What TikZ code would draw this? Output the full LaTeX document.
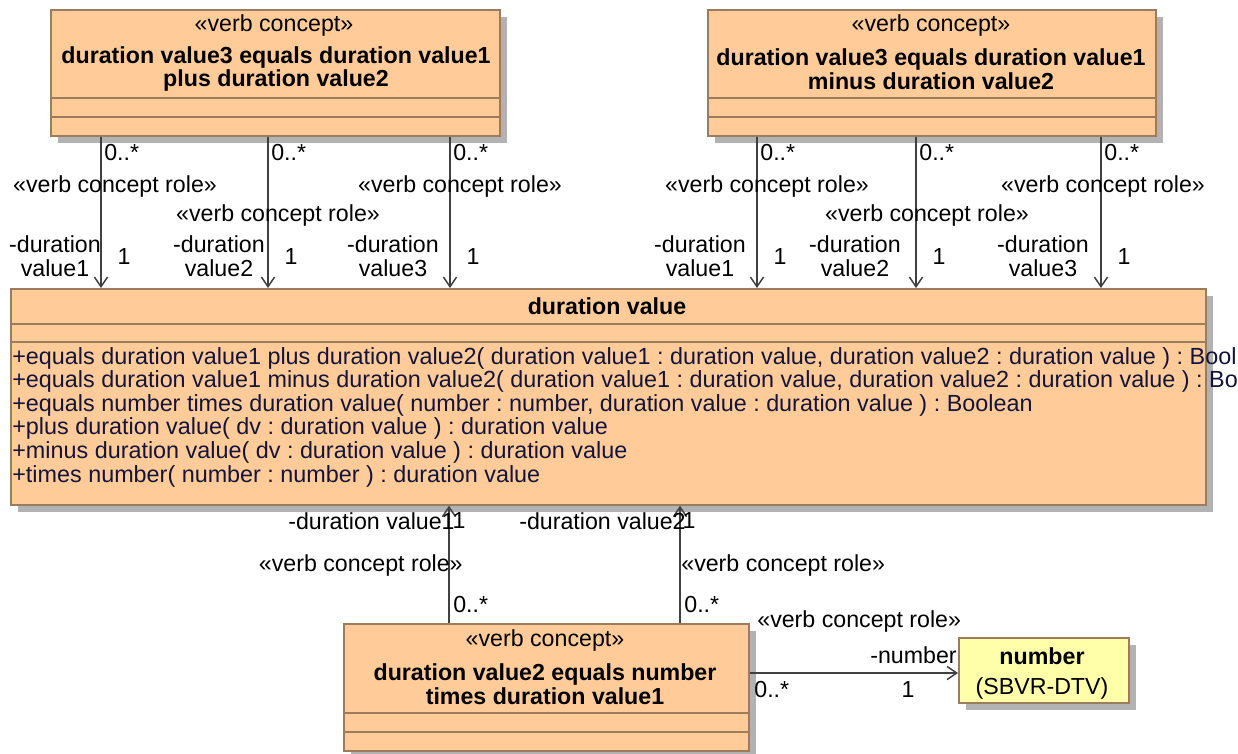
\documentclass[tikz,border=0pt]{standalone}
\usepackage{fontspec}
\setmainfont{Liberation Sans}
\usetikzlibrary{arrows.meta, calc, shadows}
\frenchspacing

\definecolor{classfill}{HTML}{FFCC99}
\definecolor{classline}{HTML}{9C7C5C}
\definecolor{dtvfill}{HTML}{FFFFAA}
\definecolor{linkgray}{HTML}{404040}
\definecolor{optext}{HTML}{14143A}

\tikzset{
  umlbox/.style={draw=classline, fill=classfill, line width=1pt, inner sep=0pt, anchor=north west,
    drop shadow={shadow xshift=0.15cm, shadow yshift=-0.15cm, fill=black!30, opacity=1}},
  boxline/.style={draw=classline, line width=1pt},
  role/.style={draw=linkgray, line width=0.85pt, -{Straight Barb[length=5.5pt, width=7.5pt]}},
  lbl/.style={inner sep=0pt, font=\fontsize{13.2}{13.4}\selectfont},
  bold/.style={inner sep=0pt, align=center, font=\fontsize{13.2}{13.6}\selectfont\bfseries},
}

\begin{document}
\begin{tikzpicture}[x=0.02cm, y=-0.02cm]
    \useasboundingbox (0,0) rectangle (1238,754);

    % The verb concepts
    \node[umlbox, minimum width=8.98cm, minimum height=2.52cm] (plus) at (50,9) {};
    \node[umlbox, minimum width=8.96cm, minimum height=2.52cm] (minus) at (707,9) {};
    \node[umlbox, minimum width=8.1cm, minimum height=2.54cm] (times) at (343,623) {};

    % The main class and the data type
    \node[umlbox, minimum width=23.9cm, minimum height=4.32cm] (dv) at (10,288) {};
    \node[umlbox, fill=dtvfill, minimum width=3.4cm, minimum height=1.3cm] (num) at (958,637) {};

    % Compartments
    \foreach \b/\d in {plus/89, plus/108, minus/89, minus/108, times/90, times/109, dv/36, dv/54}
        \draw[boxline] ($(\b.north west)+(0,\d)$) -- ($(\b.north east)+(0,\d)$);

    % Class texts
    \node[lbl] at (274,26) {«verb concept»};
    \node[bold] at (276,69) {duration value3 equals duration value1\\plus duration value2};
    \node[lbl] at (931,26) {«verb concept»};
    \node[bold] at (931,69) {duration value3 equals duration value1\\minus duration value2};
    \node[lbl] at (545,640) {«verb concept»};
    \node[bold] at (545,684) {duration value2 equals number\\times duration value1};
    \node[bold] at (607,306) {duration value};
    \node[bold] at (1042,656) {number};
    \node[lbl] at (1042,688) {(SBVR-DTV)};

    % Operations
    \node[lbl, text=optext, anchor=north west, align=left, font=\fontsize{13.3}{13.4}\selectfont] (ops) at (12,347) {%
        +equals duration value1 plus duration value2( duration value1 : duration value, duration value2 : duration value ) : Bool\\
        +equals duration value1 minus duration value2( duration value1 : duration value, duration value2 : duration value ) : Bo\\
        +equals number times duration value( number : number, duration value : duration value ) : Boolean\\
        +plus duration value( dv : duration value ) : duration value\\
        +minus duration value( dv : duration value ) : duration value\\
        +times number( number : number ) : duration value};

    % Roles from the verb concepts to duration value
    \foreach \n/\x in {a1/101, a2/268, a3/450, b1/757, b2/916, b3/1101, c1/449, c2/680}
        \coordinate (\n) at (\x,0);
    \foreach \n/\src in {a1/plus, a2/plus, a3/plus, b1/minus, b2/minus, b3/minus}
        \draw[role] (\src.south -| \n) -- (dv.north -| \n);
    \foreach \n in {c1, c2}
        \draw[role] (times.north -| \n) -- (dv.south -| \n);
    \draw[role] (times.east |- 0,673) -- (num.west |- 0,673);

    % Role labels, top
    \foreach \x/\rx/\ry/\dx/\k in {101/115/187/55/1, 268/278/215/219/2, 450/460/187/393/3,
                                   757/767/187/700/1, 916/927/215/855/2, 1101/1103/187/1043/3} {
        \node[lbl, anchor=west] at (\x+3,153) {0..*};
        \node[lbl] at (\rx,\ry) {«verb concept role»};
        \node[lbl, align=center] at (\dx,256) {-duration\\value\k};
        \node[lbl] at (\x+23,257) {1};
    }

    % Role labels, bottom
    \node[lbl, anchor=east] at (455,521) {-duration value1};
    \node[lbl] at (459,521) {1};
    \node[lbl, anchor=east] at (686,521) {-duration value2};
    \node[lbl] at (689,521) {1};
    \node[lbl, anchor=east] at (463,565) {«verb concept role»};
    \node[lbl, anchor=west] at (681,565) {«verb concept role»};
    \node[lbl, anchor=west] at (453,605) {0..*};
    \node[lbl, anchor=west] at (684,605) {0..*};
    \node[lbl, anchor=west] at (757,621) {«verb concept role»};
    \node[lbl, anchor=east] at (957,655) {-number};
    \node[lbl, anchor=west] at (754,690) {0..*};
    \node[lbl] at (908,690) {1};
\end{tikzpicture}
\end{document}
